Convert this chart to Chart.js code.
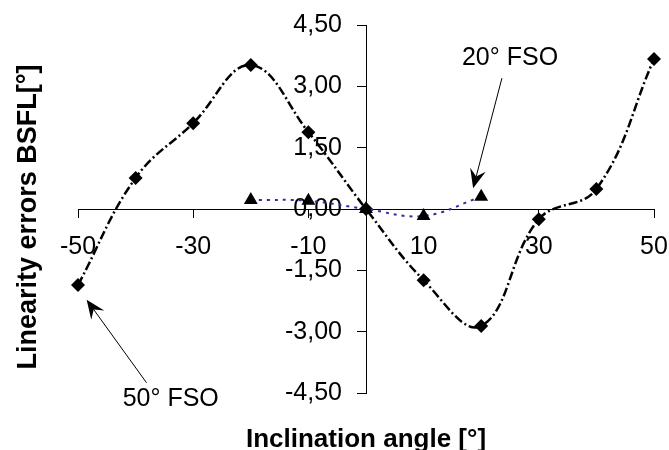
<!DOCTYPE html>
<html>
<head>
<meta charset="utf-8">
<script src="https://cdn.jsdelivr.net/npm/chart.js@4.4.1/dist/chart.umd.min.js"></script>
<style>
  body { margin: 0; background: #fff; }
  #wrap { width: 669px; height: 450px; }
</style>
</head>
<body>
<div id="wrap"><canvas id="errChart"></canvas></div>
<script>
// inclination angles and linearity errors
var angles50 = [-50, -40, -30, -20, -10, 0, 10, 20, 30, 40, 50];
var errors50 = [-1.86, 0.76, 2.10, 3.52, 1.88, 0.00, -1.74, -2.86, -0.25, 0.49, 3.67];
var angles20 = [-20, -10, 0, 10, 20];
var errors20 = [0.22, 0.20, 0.00, -0.17, 0.30];
var xTicks = [-50, -30, -10, 10, 30, 50];
var yTicks = [-4.5, -3, -1.5, 0, 1.5, 3, 4.5];

// callouts (text position, arrow tail, arrow tip) in data units
var notes = [
  { text: '20° FSO', at: [25.0, 3.70], from: [23.6, 3.20], to: [18.6, 0.51] },
  { text: '50° FSO', at: [-33.9, -4.65], from: [-38.1, -4.25], to: [-48.5, -2.22] }
];

function pts(xs, ys) {
  return xs.map(function (x, i) { return { x: x, y: ys[i] }; });
}

// the axes sit in the middle, so label overhang must not shrink the plot
function noPad(s) {
  s.paddingLeft = 0; s.paddingRight = 0; s.paddingTop = 0; s.paddingBottom = 0;
}

var fontFam = '"Liberation Sans", Arial, sans-serif';

// centred y axis puts its labels right on the axis line; move them off it
var yLabelShift = {
  id: 'yLabelShift',
  beforeDraw: function (chart) {
    var items = chart.scales.y.getLabelItems(chart.chartArea);
    if (items._moved) return;
    items.forEach(function (it) { it.options.translation[0] -= 24; });
    items._moved = true;
  }
};

var calloutPlugin = {
  id: 'callouts',
  afterDatasetsDraw: function (chart) {
    var c = chart.ctx, xs = chart.scales.x, ys = chart.scales.y;
    c.save();
    // axis titles
    c.fillStyle = '#000';
    c.font = 'bold 26px ' + fontFam;
    c.textAlign = 'center';
    c.textBaseline = 'alphabetic';
    c.fillText('Inclination angle [°]', xs.getPixelForValue(0), 447);
    c.save();
    c.translate(36, 217);
    c.rotate(-Math.PI / 2);
    c.font = 'bold 27px ' + fontFam;
    c.fillText('Linearity errors BSFL[°]', 0, 0);
    c.restore();

    notes.forEach(function (n) {
      c.font = '25px ' + fontFam;
      c.textAlign = 'center';
      c.textBaseline = 'middle';
      c.fillText(n.text, xs.getPixelForValue(n.at[0]), ys.getPixelForValue(n.at[1]));
      var x1 = xs.getPixelForValue(n.from[0]), y1 = ys.getPixelForValue(n.from[1]);
      var x2 = xs.getPixelForValue(n.to[0]), y2 = ys.getPixelForValue(n.to[1]);
      var ang = Math.atan2(y2 - y1, x2 - x1);
      var len = 19, half = 8, notch = 12;
      c.strokeStyle = '#000';
      c.lineWidth = 1;
      c.setLineDash([]);
      c.beginPath();
      c.moveTo(x1, y1);
      c.lineTo(x2 - Math.cos(ang) * notch, y2 - Math.sin(ang) * notch);
      c.stroke();
      c.beginPath();
      c.moveTo(x2, y2);
      c.lineTo(x2 - Math.cos(ang) * len + Math.sin(ang) * half, y2 - Math.sin(ang) * len - Math.cos(ang) * half);
      c.lineTo(x2 - Math.cos(ang) * notch, y2 - Math.sin(ang) * notch);
      c.lineTo(x2 - Math.cos(ang) * len - Math.sin(ang) * half, y2 - Math.sin(ang) * len + Math.cos(ang) * half);
      c.closePath();
      c.fill();
    });
    c.restore();
  }
};

var ctx = document.getElementById('errChart').getContext('2d');
var errChart = new Chart(ctx, {
  type: 'scatter',
  data: {
    datasets: [{
      label: '20° FSO',
      data: pts(angles20, errors20),
      showLine: true,
      tension: 0.4,
      borderColor: '#2e2e9e',
      borderWidth: 2,
      borderDash: [3, 5],
      pointStyle: 'triangle',
      pointRadius: 8,
      pointBackgroundColor: '#000',
      pointBorderColor: '#000',
      pointBorderWidth: 0
    }, {
      label: '50° FSO',
      data: pts(angles50, errors50),
      showLine: true,
      tension: 0.4,
      borderColor: '#000',
      borderWidth: 2.5,
      borderDash: [9, 3, 2, 3],
      pointStyle: 'rectRot',
      pointRadius: 7,
      pointBackgroundColor: '#000',
      pointBorderColor: '#000',
      pointBorderWidth: 0
    }]
  },
  options: {
    responsive: true,
    maintainAspectRatio: false,
    animation: false,
    clip: false,
    layout: {
      padding: { left: 78, right: 15, top: 25, bottom: 57 }
    },
    plugins: {
      legend: { display: false },
      tooltip: { enabled: false }
    },
    scales: {
      x: {
        type: 'linear',
        position: { y: 0 },
        min: -50,
        max: 50,
        afterBuildTicks: function (s) { s.ticks = xTicks.map(function (v) { return { value: v }; }); },
        afterFit: noPad,
        ticks: {
          color: '#000',
          padding: 15,
          maxRotation: 0,
          font: { family: fontFam, size: 25 }
        },
        grid: { drawOnChartArea: false, drawTicks: true, tickLength: 8, tickColor: '#000' },
        border: { display: true, color: '#000', width: 1 }
      },
      y: {
        type: 'linear',
        position: { x: 0 },
        min: -4.5,
        max: 4.5,
        afterBuildTicks: function (s) { s.ticks = yTicks.map(function (v) { return { value: v }; }); },
        afterFit: noPad,
        ticks: {
          color: '#000',
          padding: 16,
          font: { family: fontFam, size: 25 },
          callback: function (v) { return v.toFixed(2).replace('.', ','); }
        },
        grid: { drawOnChartArea: false, drawTicks: true, tickLength: 9, tickColor: '#000' },
        border: { display: true, color: '#000', width: 1 }
      }
    }
  },
  plugins: [yLabelShift, calloutPlugin]
});
</script>
</body>
</html>
